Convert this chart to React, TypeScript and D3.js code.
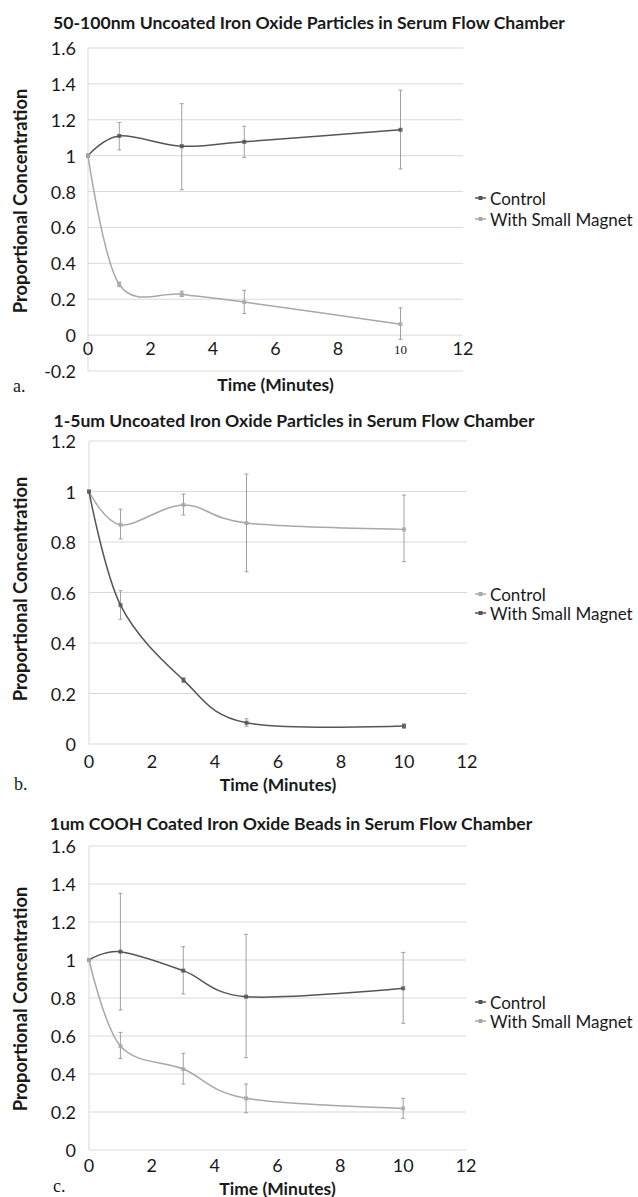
import React from "react";
import * as d3 from "d3";

const TIMES = [0, 1, 3, 5, 10];
const X_TICKS = [0, 2, 4, 6, 8, 10, 12];
const SERIES_NAMES = ["Control", "With Small Magnet"];

// a. 50-100nm
const A_TITLE = "50-100nm Uncoated Iron Oxide Particles in Serum Flow Chamber";
const A_Y_TICKS = [-0.2, 0, 0.2, 0.4, 0.6, 0.8, 1, 1.2, 1.4, 1.6];
const A_CONTROL = [1, 1.11, 1.053, 1.077, 1.144];
const A_CONTROL_LO = [null, 1.032, 0.81, 0.99, 0.926];
const A_CONTROL_HI = [null, 1.185, 1.29, 1.164, 1.365];
const A_MAGNET = [1, 0.282, 0.228, 0.184, 0.061];
const A_MAGNET_LO = [null, 0.27, 0.215, 0.12, -0.024];
const A_MAGNET_HI = [null, 0.295, 0.245, 0.25, 0.152];

// b. 1-5um
const B_TITLE = "1-5um Uncoated Iron Oxide Particles in Serum Flow Chamber";
const B_Y_TICKS = [0, 0.2, 0.4, 0.6, 0.8, 1, 1.2];
const B_CONTROL = [1, 0.868, 0.947, 0.875, 0.85];
const B_CONTROL_LO = [null, 0.812, 0.907, 0.682, 0.722];
const B_CONTROL_HI = [null, 0.93, 0.99, 1.069, 0.986];
const B_MAGNET = [1, 0.55, 0.253, 0.084, 0.071];
const B_MAGNET_LO = [null, 0.494, 0.243, 0.07, 0.062];
const B_MAGNET_HI = [null, 0.607, 0.263, 0.1, 0.08];

// c. 1um COOH
const C_TITLE = "1um COOH Coated Iron Oxide Beads in Serum Flow Chamber";
const C_Y_TICKS = [0, 0.2, 0.4, 0.6, 0.8, 1, 1.2, 1.4, 1.6];
const C_CONTROL = [1, 1.044, 0.944, 0.807, 0.851];
const C_CONTROL_LO = [null, 0.737, 0.821, 0.486, 0.667];
const C_CONTROL_HI = [null, 1.351, 1.07, 1.135, 1.04];
const C_MAGNET = [1, 0.547, 0.426, 0.272, 0.219];
const C_MAGNET_LO = [null, 0.482, 0.347, 0.196, 0.167];
const C_MAGNET_HI = [null, 0.619, 0.509, 0.347, 0.272];

const DARK = "#555555";
const LIGHT = "#a8a8a8";
const GRID = "#d9d9d9";
const ERR = "#a0a0a0";
const FONT = "Lato, 'Open Sans', sans-serif";
const INK = "#1a1a1a";

type Series = { values: number[]; lo: (number | null)[]; hi: (number | null)[]; color: string };

type PanelProps = {
  title: string;
  titleX: number;
  titleY: number;
  top: number;
  bottom: number;
  left: number;
  right: number;
  yTicks: number[];
  series: Series[];
  xLabelY: number;
  xTitleY: number;
  yLabelY: number;
  legendY: number[];
  letter: string;
  letterX: number;
  letterY: number;
  serifTen?: boolean;
};

const fmtTick = (t: number) => d3.format("~g")(t).replace("\u2212", "-");

function Panel(p: PanelProps) {
  const x = d3.scaleLinear().domain([0, 12]).range([p.left, p.right]);
  const y = d3
    .scaleLinear()
    .domain([p.yTicks[0], p.yTicks[p.yTicks.length - 1]])
    .range([p.bottom, p.top]);
  const line = d3
    .line<number>()
    .x((_, i) => x(TIMES[i]))
    .y((d) => y(d))
    .curve(d3.curveCatmullRom.alpha(0));

  return (
    <g>
      <text x={p.titleX} y={p.titleY} textAnchor="middle" dominantBaseline="central"
        fontFamily={FONT} fontWeight="bold" fontSize={17.6} fill={INK}>
        {p.title}
      </text>
      {p.yTicks.map((t) => (
        <g key={t}>
          <line x1={p.left} x2={p.right} y1={y(t)} y2={y(t)} stroke={GRID} strokeWidth={1} />
          <text x={76} y={y(t)} textAnchor="end" dominantBaseline="central"
            fontFamily={FONT} fontSize={18} fill={INK}>
            {fmtTick(t)}
          </text>
        </g>
      ))}
      <line x1={p.left} x2={p.left} y1={p.top} y2={p.bottom} stroke={GRID} strokeWidth={1} />
      {X_TICKS.map((t) =>
        p.serifTen && t === 10 ? (
          <text key={t} x={x(t)} y={p.xLabelY + 1} textAnchor="middle" dominantBaseline="central"
            fontFamily="'Liberation Serif', serif" fontSize={13} fill={INK}>
            {t}
          </text>
        ) : (
          <text key={t} x={x(t)} y={p.xLabelY} textAnchor="middle" dominantBaseline="central"
            fontFamily={FONT} fontSize={18} fill={INK}>
            {t}
          </text>
        )
      )}
      <text x={(p.left + p.right) / 2} y={p.xTitleY} textAnchor="middle" dominantBaseline="central"
        fontFamily={FONT} fontWeight="bold" fontSize={17.5} fill={INK}>
        Time (Minutes)
      </text>
      <text transform={`translate(20,${p.yLabelY}) rotate(-90)`} textAnchor="middle" dominantBaseline="central"
        fontFamily={FONT} fontWeight="bold" fontSize={18.4} fill={INK}>
        Proportional Concentration
      </text>
      <text x={p.letterX} y={p.letterY} dominantBaseline="central"
        fontFamily="'Liberation Serif', serif" fontSize={18} fill={INK}>
        {p.letter}
      </text>

      {p.series.map((s, si) => (
        <g key={si}>
          {s.values.map((v, i) =>
            s.lo[i] == null ? null : (
              <g key={i} stroke={ERR} strokeWidth={1}>
                <line x1={x(TIMES[i])} x2={x(TIMES[i])} y1={y(s.lo[i] as number)} y2={y(s.hi[i] as number)} />
                <line x1={x(TIMES[i]) - 2} x2={x(TIMES[i]) + 2} y1={y(s.lo[i] as number)} y2={y(s.lo[i] as number)} />
                <line x1={x(TIMES[i]) - 2} x2={x(TIMES[i]) + 2} y1={y(s.hi[i] as number)} y2={y(s.hi[i] as number)} />
              </g>
            )
          )}
        </g>
      ))}
      {p.series.map((s, si) => (
        <g key={si}>
          <path d={line(s.values) || ""} fill="none" stroke={s.color} strokeWidth={1.5} />
          {s.values.map((v, i) => (
            <rect key={i} x={x(TIMES[i]) - 2} y={y(v) - 2} width={4} height={4} fill={s.color} opacity={0.85} />
          ))}
        </g>
      ))}
      {p.series.map((s, si) => (
        <g key={si}>
          <line x1={475} x2={486} y1={p.legendY[si]} y2={p.legendY[si]} stroke={s.color} strokeWidth={1.5} />
          <rect x={478.5} y={p.legendY[si] - 2} width={4} height={4} fill={s.color} />
          <text x={490} y={p.legendY[si]} dominantBaseline="central" fontFamily={FONT} fontSize={17} fill={INK}>
            {SERIES_NAMES[si]}
          </text>
        </g>
      ))}
    </g>
  );
}

export default function App() {
  return (
    <svg width={638} height={1197} style={{ position: "absolute", left: 0, top: 0, background: "#fff" }}>
      <Panel
        title={A_TITLE} titleX={309} titleY={22}
        top={48} bottom={371} left={88} right={463}
        yTicks={A_Y_TICKS}
        series={[
          { values: A_CONTROL, lo: A_CONTROL_LO, hi: A_CONTROL_HI, color: DARK },
          { values: A_MAGNET, lo: A_MAGNET_LO, hi: A_MAGNET_HI, color: LIGHT },
        ]}
        xLabelY={348} xTitleY={384} yLabelY={201} legendY={[198, 219]}
        letter="a." letterX={13} letterY={386} serifTen
      />
      <Panel
        title={B_TITLE} titleX={294} titleY={420}
        top={441} bottom={744} left={89} right={467}
        yTicks={B_Y_TICKS}
        series={[
          { values: B_CONTROL, lo: B_CONTROL_LO, hi: B_CONTROL_HI, color: LIGHT },
          { values: B_MAGNET, lo: B_MAGNET_LO, hi: B_MAGNET_HI, color: DARK },
        ]}
        xLabelY={761} xTitleY={784} yLabelY={589} legendY={[594, 613]}
        letter="b." letterX={14} letterY={784}
      />
      <Panel
        title={C_TITLE} titleX={291} titleY={823}
        top={846} bottom={1150} left={89} right={466}
        yTicks={C_Y_TICKS}
        series={[
          { values: C_CONTROL, lo: C_CONTROL_LO, hi: C_CONTROL_HI, color: DARK },
          { values: C_MAGNET, lo: C_MAGNET_LO, hi: C_MAGNET_HI, color: LIGHT },
        ]}
        xLabelY={1165} xTitleY={1188} yLabelY={999} legendY={[1002, 1021]}
        letter="c." letterX={53} letterY={1186}
      />
    </svg>
  );
}
